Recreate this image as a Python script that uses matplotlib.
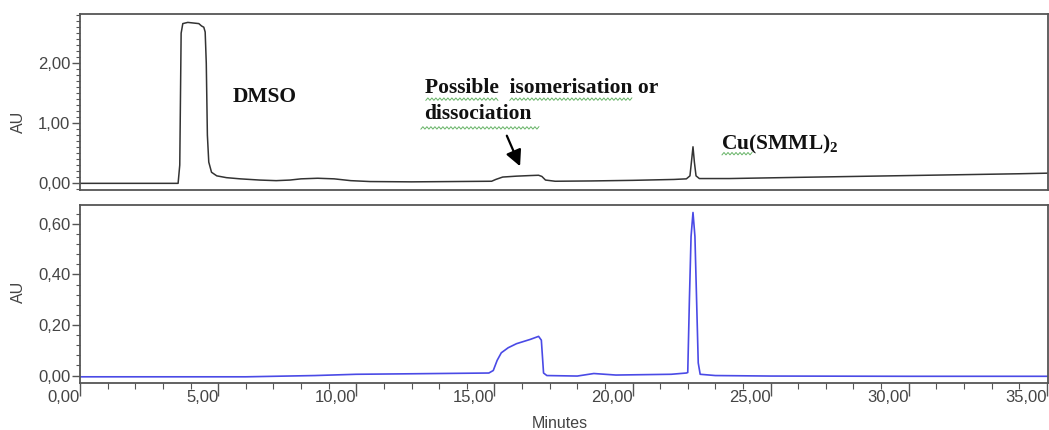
import numpy as np
import matplotlib
matplotlib.use("Agg")
from matplotlib import pyplot as plt
from matplotlib.ticker import MultipleLocator, FuncFormatter

plt.rcParams["font.family"] = ["Liberation Sans", "DejaVu Sans"]
plt.rcParams["mathtext.fontset"] = "custom"
plt.rcParams["mathtext.bf"] = "Liberation Serif:bold"
plt.rcParams["mathtext.rm"] = "Liberation Serif:bold"

# upper trace (black detector channel), minutes / AU
t_top = [0.0, 3.55, 3.61, 3.66, 3.72, 3.9, 4.1, 4.3, 4.4, 4.48, 4.53, 4.57,
         4.61, 4.66, 4.76, 4.95, 5.3, 5.8, 6.5, 7.1, 7.6, 8.0, 8.6, 9.2, 9.8,
         10.5, 12.0, 13.5, 14.9, 15.05, 15.3, 15.8, 16.3, 16.6, 16.72, 16.85,
         17.2, 18.5, 20.0, 21.5, 21.95, 22.08, 22.14, 22.19, 22.24, 22.3,
         22.42, 23.5, 26.0, 28.0, 30.0, 32.0, 34.0, 35.04]
au_top = [-0.005, -0.005, 0.3, 2.5, 2.66, 2.68, 2.67, 2.66, 2.62, 2.6, 2.52,
          2.0, 0.8, 0.35, 0.18, 0.12, 0.09, 0.07, 0.05, 0.04, 0.05, 0.07,
          0.08, 0.07, 0.04, 0.025, 0.02, 0.025, 0.03, 0.06, 0.1, 0.115, 0.125,
          0.13, 0.11, 0.05, 0.03, 0.035, 0.045, 0.06, 0.07, 0.12, 0.38, 0.605,
          0.35, 0.12, 0.075, 0.075, 0.095, 0.11, 0.125, 0.14, 0.155, 0.165]

# lower trace (blue channel)
t_bot = [0.0, 6.0, 7.0, 8.5, 10.0, 12.0, 14.8, 14.96, 15.1, 15.25, 15.5,
         15.8, 16.3, 16.6, 16.7, 16.78, 16.9, 18.0, 18.6, 19.4, 21.4, 21.95,
         22.0, 22.06, 22.12, 22.19, 22.26, 22.32, 22.38, 22.45, 23.0, 25.0,
         30.0, 35.04]
au_bot = [-0.005, -0.005, -0.003, 0.0, 0.005, 0.007, 0.01, 0.02, 0.06, 0.09,
          0.11, 0.126, 0.143, 0.155, 0.14, 0.01, 0.0, -0.002, 0.008, 0.002,
          0.005, 0.01, 0.012, 0.3, 0.55, 0.645, 0.55, 0.3, 0.05, 0.005, 0.0,
          -0.002, -0.003, -0.003]

x_major = [0, 5, 10, 15, 20, 25, 30, 35]
top_ticks = [0, 1, 2]
bot_ticks = [0, 0.2, 0.4, 0.6]

frame = "#555555"
txt = "#444444"
comma = FuncFormatter(lambda v, pos: f"{v:.2f}".replace(".", ","))

fig = plt.figure(figsize=(10.49, 4.30), dpi=100)
ax1 = fig.add_axes([0.0763, 0.558, 0.9227, 0.409])
ax2 = fig.add_axes([0.0763, 0.109, 0.9227, 0.4145])

ax1.plot(t_top, au_top, color="#333333", lw=1.1)
ax2.plot(t_bot, au_bot, color="#4a4ae6", lw=1.2)

ax1.set_ylim(-0.117, 2.817)
ax2.set_ylim(-0.030, 0.675)
for ax in (ax1, ax2):
    ax.set_xlim(0, 35.04)
    for s in ax.spines.values():
        s.set_color(frame)
        s.set_linewidth(1.3)
    ax.yaxis.set_major_formatter(comma)
    ax.tick_params(axis="y", which="major", length=6, width=1, color=frame,
                   labelsize=12, labelcolor=txt, pad=1)
    ax.tick_params(axis="y", which="minor", length=3, width=0.8, color=frame)
    ax.set_ylabel("AU", fontsize=11.5, color=txt)

ax1.set_yticks(top_ticks)
ax1.yaxis.set_minor_locator(MultipleLocator(0.1))
ax1.tick_params(axis="x", which="both", bottom=False, labelbottom=False)
ax1.yaxis.set_label_coords(-0.056, 0.386)

ax2.set_yticks(bot_ticks)
ax2.yaxis.set_minor_locator(MultipleLocator(0.04))
ax2.set_xticks(x_major)
ax2.xaxis.set_minor_locator(MultipleLocator(1))
ax2.xaxis.set_major_formatter(comma)
ax2.tick_params(axis="x", which="major", length=9, width=1, color=frame,
                labelsize=12, labelcolor=txt, pad=-4)
ax2.tick_params(axis="x", which="minor", length=4, width=0.8, color=frame)
for lab in ax2.get_xticklabels():
    lab.set_ha("right")
ax2.yaxis.set_label_coords(-0.056, 0.51)

fig.text(0.534, 0.016, "Minutes", fontsize=11.5, color=txt, ha="center", va="center")

# annotations
serif = dict(family="Liberation Serif", weight="bold", fontsize=15.5, color="#111111",
             ha="left", va="center")
ax1.text(5.54, 1.43, "DMSO", **serif)
ax1.text(12.49, 1.58, "Possible  isomerisation or", **serif)
ax1.text(12.45, 1.15, "dissociation", **serif)
ax1.text(23.2, 0.65, r"Cu(SMML)$\mathbf{_2}$", **serif)
ax1.annotate("", xy=(15.93, 0.28), xytext=(15.45, 0.79),
             arrowprops=dict(arrowstyle="-|>", color="black", lw=1.6,
                             mutation_scale=24, shrinkA=0, shrinkB=0))

# spell-check squiggles under some words
for x0, x1, yy in [(12.52, 15.13, 1.40), (15.56, 19.98, 1.40),
                   (12.34, 16.65, 0.92), (23.24, 24.36, 0.49)]:
    xs = np.arange(x0, x1, 0.0724)
    ys = yy + 0.02 * (np.arange(len(xs)) % 2 * 2 - 1)
    ax1.plot(xs, ys, color="#66b366", lw=0.7)

fig.savefig("out.png", dpi=100)
